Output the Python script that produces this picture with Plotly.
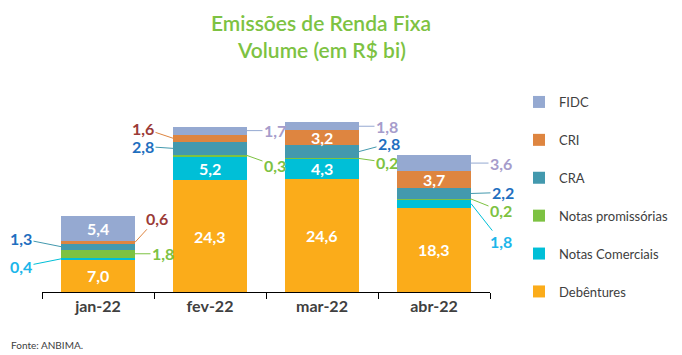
import plotly.graph_objects as go

months = ["jan-22", "fev-22", "mar-22", "abr-22"]
series_names = ["Debêntures", "Notas Comerciais", "Notas promissórias", "CRA", "CRI", "FIDC"]
debentures = [7.0, 24.3, 24.6, 18.3]
notas_comerciais = [0.4, 5.2, 4.3, 1.8]
notas_promissorias = [1.8, 0.3, 0.2, 0.2]
cra = [1.3, 2.8, 2.8, 2.2]
cri = [0.6, 1.6, 3.2, 3.7]
fidc = [5.4, 1.7, 1.8, 3.6]
values = [debentures, notas_comerciais, notas_promissorias, cra, cri, fidc]

bar_colors = ["#FBAC1A", "#00BFD7", "#7DC242", "#4399AE", "#DE8540", "#95A9D1"]
label_colors = ["#FFFFFF", "#1CB6EA", "#7DC242", "#1F6FBF", "#9B3B38", "#A69CCB"]

# label placement style: None = inside (white); else (ax, ay) pixel offsets of text from bar edge
placement = {
    (0, 0): None, (0, 1): (-40, 8), (0, 2): (28, 0), (0, 3): (-40, -8), (0, 4): (22, -24), (0, 5): None,
    (1, 0): None, (1, 1): None, (1, 2): (28, 10), (1, 3): (-30, -2), (1, 4): (-30, -10), (1, 5): (28, 0),
    (2, 0): None, (2, 1): None, (2, 2): (28, 4), (2, 3): (30, -8), (2, 4): None, (2, 5): (28, 0),
    (3, 0): None, (3, 1): (30, 38), (3, 2): (30, 12), (3, 3): (32, -1), (3, 4): None, (3, 5): (30, 0),
}

FONT = "Lato"
BAR_HALF_PX = 37
PLOT_H = 192

fig = go.Figure()
for s, name in enumerate(series_names):
    fig.add_trace(go.Bar(
        x=months, y=values[s], name=name, marker=dict(color=bar_colors[s], line=dict(width=0)),
        legendgroup=name, legendrank=len(series_names) - s, hoverinfo="skip",
    ))

annotations = []
for m in range(len(months)):
    base = 0.0
    for s in range(len(series_names)):
        v = values[s][m]
        mid = base + v / 2
        txt = f"{v:.1f}".replace(".", ",")
        p = placement[(m, s)]
        if p is None:
            annotations.append(dict(x=months[m], y=mid, text=txt, showarrow=False,
                                    font=dict(family=FONT, size=16, color="white", weight="bold")))
        else:
            ax, ay = p
            side = 1 if ax > 0 else -1
            annotations.append(dict(x=months[m], y=mid, xshift=side * BAR_HALF_PX, text=txt,
                                    showarrow=True, arrowhead=0, arrowwidth=1, arrowcolor=bar_colors[s],
                                    ax=ax, ay=ay, standoff=0, startstandoff=0,
                                    font=dict(family=FONT, size=16, color=label_colors[s], weight="bold")))
        base += v

title_font = dict(family=FONT, size=21, color="#7DC242", weight=600)
annotations.append(dict(x=(321 - 42) / 448, y=(292 - 22) / PLOT_H, xref="paper", yref="paper",
                        xanchor="center", yanchor="middle", text="Emissões de Renda Fixa",
                        showarrow=False, font=title_font))
annotations.append(dict(x=(321 - 42) / 448, y=(292 - 50) / PLOT_H, xref="paper", yref="paper",
                        xanchor="center", yanchor="middle", text="Volume (em R$ bi)",
                        showarrow=False, font=title_font))
annotations.append(dict(x=(9 - 42) / 448, y=(292 - 345) / PLOT_H, xref="paper", yref="paper",
                        xanchor="left", yanchor="middle", text="Fonte: ANBIMA.", showarrow=False,
                        font=dict(family=FONT, size=10, color="#404040")))

fig.update_layout(
    width=682, height=355,
    margin=dict(l=34, r=200, t=92, b=71, autoexpand=False),
    paper_bgcolor="white", plot_bgcolor="white",
    barmode="stack", bargap=0.34,
    xaxis=dict(type="category", range=[-0.5, len(months) - 0.5], autorange=False,
               tickson="boundaries", ticks="outside", ticklen=6, tickcolor="#000000",
               showline=True, linecolor="#000000", linewidth=1, showgrid=False,
               tickfont=dict(family=FONT, size=16, color="#404040", weight="bold")),
    yaxis=dict(range=[0, 41.7], autorange=False, visible=False, showgrid=False, zeroline=False),
    legend=dict(xref="container", yref="container", x=511 / 682, y=1 - 79 / 355,
                xanchor="left", yanchor="top", traceorder="grouped", maxheight=1.0,
                tracegroupgap=18, font=dict(family=FONT, size=13, color="#404040")),
    annotations=annotations,
    showlegend=True,
)

fig.write_html("out.html")
